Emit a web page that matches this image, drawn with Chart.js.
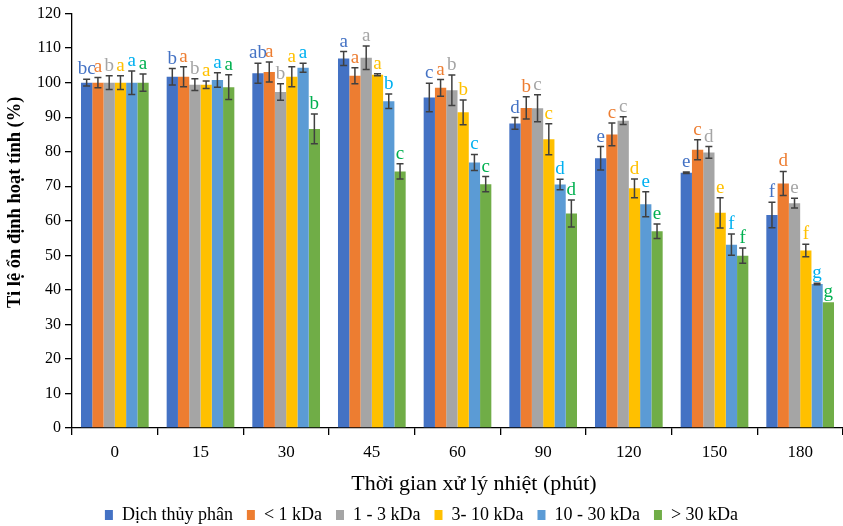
<!DOCTYPE html>
<html>
<head>
<meta charset="utf-8">
<script src="https://cdn.jsdelivr.net/npm/chart.js@4/dist/chart.umd.min.js"></script>
<style>
  html, body { margin: 0; padding: 0; background: #fff; }
  #wrap { width: 843px; height: 526px; position: relative; }
</style>
</head>
<body>
<div id="wrap"><canvas id="c"></canvas></div>
<script>
// Heating time (minutes)
const categories = ['0', '15', '30', '45', '60', '90', '120', '150', '180'];

// Residual activity (%) per fraction
const hydrolysate = [100, 101.7, 102.7, 107.0, 95.7, 88.2, 78.1, 73.9, 61.7];
const below1 = [100, 101.7, 103.1, 102.0, 98.5, 92.7, 85.0, 80.6, 70.8];
const from1to3 = [100, 99.4, 97.3, 107.2, 97.8, 92.6, 89.0, 79.8, 65.1];
const from3to10 = [100, 99.4, 101.7, 102.3, 91.4, 83.6, 69.4, 62.3, 51.4];
const from10to30 = [100, 100.8, 104.3, 94.6, 76.9, 70.5, 64.8, 53.1, 41.7];
const above30 = [100, 98.7, 86.6, 74.3, 70.6, 62.1, 57.0, 49.9, 36.4];

// Standard deviations
const hydrolysateErr = [1.0, 2.4, 2.9, 2.0, 4.1, 1.7, 3.4, 0.2, 3.7];
const below1Err = [1.5, 2.9, 2.9, 2.3, 2.4, 3.2, 3.3, 2.9, 3.5];
const from1to3Err = [2.0, 1.7, 2.4, 3.4, 4.4, 3.9, 1.1, 1.7, 1.4];
const from3to10Err = [2.0, 1.1, 2.9, 0.3, 3.6, 4.5, 2.7, 4.4, 1.8];
const from10to30Err = [3.4, 2.1, 1.3, 2.1, 2.3, 1.5, 3.6, 3.1, 0.2];
const above30Err = [2.5, 3.6, 4.3, 2.2, 2.2, 3.9, 2.1, 2.2, 0];

// Significance letters
const hydrolysateSig = ['bc', 'b', 'ab', 'a', 'c', 'd', 'e', 'e', 'f'];
const below1Sig = ['a', 'a', 'a', 'a', 'a', 'b', 'c', 'c', 'd'];
const from1to3Sig = ['b', 'b', 'b', 'a', 'b', 'c', 'c', 'd', 'e'];
const from3to10Sig = ['a', 'a', 'a', 'a', 'b', 'c', 'd', 'e', 'f'];
const from10to30Sig = ['a', 'a', 'a', 'b', 'c', 'd', 'e', 'f', 'g'];
const above30Sig = ['a', 'a', 'b', 'c', 'c', 'd', 'e', 'f', 'g'];

const seriesNames = ['Dịch thủy phân', '< 1 kDa', '1 - 3 kDa', '3- 10 kDa', '10 - 30 kDa', '> 30 kDa'];
const yTicks = [0, 10, 20, 30, 40, 50, 60, 70, 80, 90, 100, 110, 120];
const xTitle = 'Thời gian xử lý nhiệt (phút)';
const yTitle = 'Ti lệ ổn định hoạt tính (%)';

const SERIF = "'Liberation Serif', 'Times New Roman', serif";
const barColors = ['#4472C4', '#ED7D31', '#A5A5A5', '#FFC000', '#5B9BD5', '#70AD47'];
const letterColors = ['#4472C4', '#ED7D31', '#A5A5A5', '#FFC000', '#00B0F0', '#00B050'];

const values = [hydrolysate, below1, from1to3, from3to10, from10to30, above30];
const errors = [hydrolysateErr, below1Err, from1to3Err, from3to10Err, from10to30Err, above30Err];
const letters = [hydrolysateSig, below1Sig, from1to3Sig, from3to10Sig, from10to30Sig, above30Sig];

const datasets = values.map((v, i) => ({
  label: seriesNames[i],
  data: v,
  errors: errors[i],
  letters: letters[i],
  letterColor: letterColors[i],
  backgroundColor: barColors[i],
  borderWidth: 0,
  categoryPercentage: 0.79,
  barPercentage: 1.0
}));

// Error bars with caps plus significance letters above each bar
const errorBarPlugin = {
  id: 'errorBars',
  afterDatasetsDraw(chart) {
    const ctx = chart.ctx;
    const y = chart.scales.y;
    chart.data.datasets.forEach((ds, di) => {
      const meta = chart.getDatasetMeta(di);
      meta.data.forEach((bar, i) => {
        const v = ds.data[i];
        const e = ds.errors[i];
        const top = y.getPixelForValue(v + e);
        const bot = y.getPixelForValue(v - e);
        ctx.save();
        ctx.strokeStyle = '#404040';
        ctx.lineWidth = 1.5;
        if (e > 0) {
          ctx.beginPath();
          ctx.moveTo(bar.x, top);
          ctx.lineTo(bar.x, bot);
          ctx.moveTo(bar.x - 3.5, top);
          ctx.lineTo(bar.x + 3.5, top);
          ctx.moveTo(bar.x - 3.5, bot);
          ctx.lineTo(bar.x + 3.5, bot);
          ctx.stroke();
        }
        ctx.fillStyle = ds.letterColor;
        ctx.font = "19px " + SERIF;
        ctx.textAlign = 'center';
        ctx.textBaseline = 'alphabetic';
        ctx.fillText(ds.letters[i], bar.x, top - 5);
        ctx.restore();
      });
    });
  }
};

new Chart(document.getElementById('c'), {
  type: 'bar',
  data: { labels: categories, datasets },
  plugins: [errorBarPlugin],
  options: {
    responsive: true,
    maintainAspectRatio: false,
    animation: false,
    layout: { padding: { top: 8, right: 0, bottom: -8, left: 0 } },
    plugins: {
      tooltip: { enabled: false },
      legend: {
        position: 'bottom',
        labels: {
          boxWidth: 8,
          boxHeight: 10,
          padding: 14,
          color: '#000',
          font: { family: SERIF, size: 18 }
        }
      }
    },
    scales: {
      x: {
        afterFit(scale) { scale.height = 64; },
        grid: { display: true, drawOnChartArea: false, offset: true, tickLength: 7, color: '#000', lineWidth: 1.3 },
        border: { color: '#000', width: 1.3 },
        ticks: { color: '#000', font: { family: SERIF, size: 17 }, padding: 7 },
        title: {
          display: true,
          text: '      ' + xTitle,
          color: '#000',
          font: { family: SERIF, size: 22 },
          padding: { top: 0, bottom: -5 }
        }
      },
      y: {
        min: 0,
        max: 120,
        afterBuildTicks(scale) { scale.ticks = yTicks.map(v => ({ value: v })); },
        afterFit(scale) { scale.width = 72; },
        grid: { display: true, drawOnChartArea: false, tickLength: 7, color: '#000', lineWidth: 1.3 },
        border: { color: '#000', width: 1.3 },
        ticks: { color: '#000', font: { family: SERIF, size: 16 }, padding: 4 },
        title: {
          display: true,
          text: '        ' + yTitle,
          color: '#000',
          font: { family: SERIF, size: 18.5, weight: 'bold' },
          padding: { top: 4, bottom: 0 }
        }
      }
    }
  }
});
</script>
</body>
</html>
